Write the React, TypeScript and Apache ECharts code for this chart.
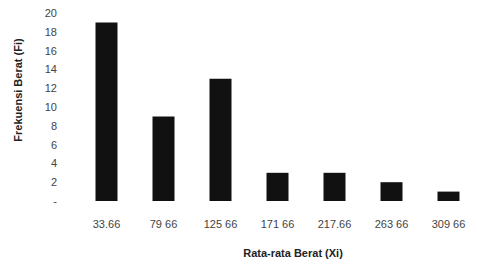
import React, { useEffect, useRef } from "react";
import * as echarts from "echarts";

const categories = ["33.66", "79 66", "125 66", "171 66", "217.66", "263 66", "309 66"];
const frequencies = [19, 9, 13, 3, 3, 2, 1];
const yTicks = { min: 0, max: 20, interval: 2 };
const xTitle = "Rata-rata Berat (Xi)";
const yTitle = "Frekuensi Berat (Fi)";

export default function App() {
  const ref = useRef<HTMLDivElement>(null);
  useEffect(() => {
    document.body.style.margin = "0";
    const chart = echarts.init(ref.current!, null, { renderer: "svg" });
    chart.setOption({
      animation: false,
      backgroundColor: "#ffffff",
      textStyle: { fontFamily: "Liberation Sans" },
      grid: { left: 78, right: -6, top: 13, bottom: 63 },
      xAxis: {
        type: "category",
        data: categories,
        axisLine: { show: false },
        axisTick: { show: false },
        axisLabel: { color: "#444", fontSize: 11, margin: 17, interval: 0 },
      },
      yAxis: {
        type: "value",
        min: yTicks.min,
        max: yTicks.max,
        interval: yTicks.interval,
        splitLine: { show: false },
        axisLine: { show: false },
        axisTick: { show: false },
        axisLabel: {
          color: "#444",
          fontSize: 11,
          margin: 21,
          formatter: (v: number) => (v === 0 ? "-" : String(v)),
        },
      },
      graphic: [
        {
          type: "text",
          x: 293,
          y: 253,
          style: {
            text: xTitle,
            fill: "#222",
            font: "bold 11px 'Liberation Sans'",
            align: "center",
            verticalAlign: "middle",
          },
        },
        {
          type: "text",
          x: 18,
          y: 90,
          rotation: Math.PI / 2,
          style: {
            text: yTitle,
            fill: "#222",
            font: "bold 11px 'Liberation Sans'",
            align: "center",
            verticalAlign: "middle",
          },
        },
      ],
      series: [
        {
          type: "bar",
          data: frequencies,
          barWidth: 22,
          itemStyle: { color: "#111111" },
        },
      ],
    });
    return () => chart.dispose();
  }, []);
  return <div ref={ref} style={{ position: "fixed", left: 0, top: 0, width: 477, height: 264 }} />;
}
